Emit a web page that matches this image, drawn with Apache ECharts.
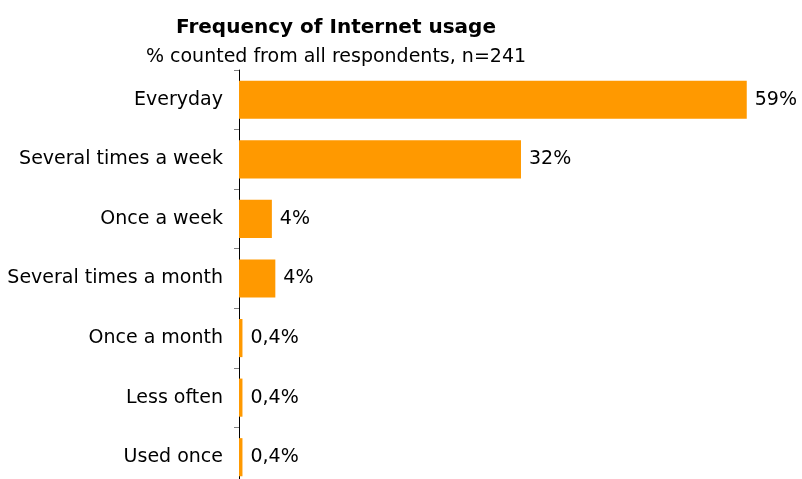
<!DOCTYPE html>
<html>
<head>
<meta charset="utf-8">
<script src="https://cdn.jsdelivr.net/npm/echarts@6/dist/echarts.min.js"></script>
<style>html,body{margin:0;padding:0;background:#fff;overflow:hidden}#c{width:802px;height:490px}</style>
</head>
<body>
<div id="c"></div>
<script>
var categories = ["Everyday", "Several times a week", "Once a week", "Several times a month", "Once a month", "Less often", "Used once"];
var values = [58.7, 32.6, 3.8, 4.2, 0.4, 0.4, 0.4];
var valueLabels = ["59%", "32%", "4%", "4%", "0,4%", "0,4%", "0,4%"];
var titleText = "Frequency of Internet usage";
var subtitleText = "% counted from all respondents, n=241";

var FONT = "DejaVu Sans";
var chart = echarts.init(document.getElementById('c'), null, {renderer: 'canvas'});
chart.setOption({
  animation: false,
  backgroundColor: '#ffffff',
  title: {
    text: titleText,
    subtext: subtitleText,
    left: 331,
    top: 13,
    textAlign: 'center',
    itemGap: 10,
    textStyle: {fontFamily: FONT, fontSize: 20, fontWeight: 'bold', color: '#000'},
    subtextStyle: {fontFamily: FONT, fontSize: 19, color: '#000'}
  },
  grid: {left: 239, top: 70, width: 65 * 8.65, height: 417, containLabel: false},
  xAxis: {
    type: 'value', min: 0, max: 65, show: false
  },
  yAxis: {
    type: 'category',
    data: categories,
    inverse: true,
    axisLine: {show: true, lineStyle: {color: '#000', width: 1}},
    axisTick: {show: true, length: 5, lineStyle: {color: '#808080'}},
    axisLabel: {fontFamily: FONT, fontSize: 19, color: '#000', margin: 16}
  },
  series: [{
    type: 'bar',
    data: values,
    barCategoryGap: '36%',
    itemStyle: {color: '#FF9900'},
    label: {
      show: true,
      position: 'right',
      distance: 8,
      fontFamily: FONT,
      fontSize: 19,
      color: '#000',
      formatter: function (p) { return valueLabels[p.dataIndex]; }
    }
  }]
});
</script>
</body>
</html>
